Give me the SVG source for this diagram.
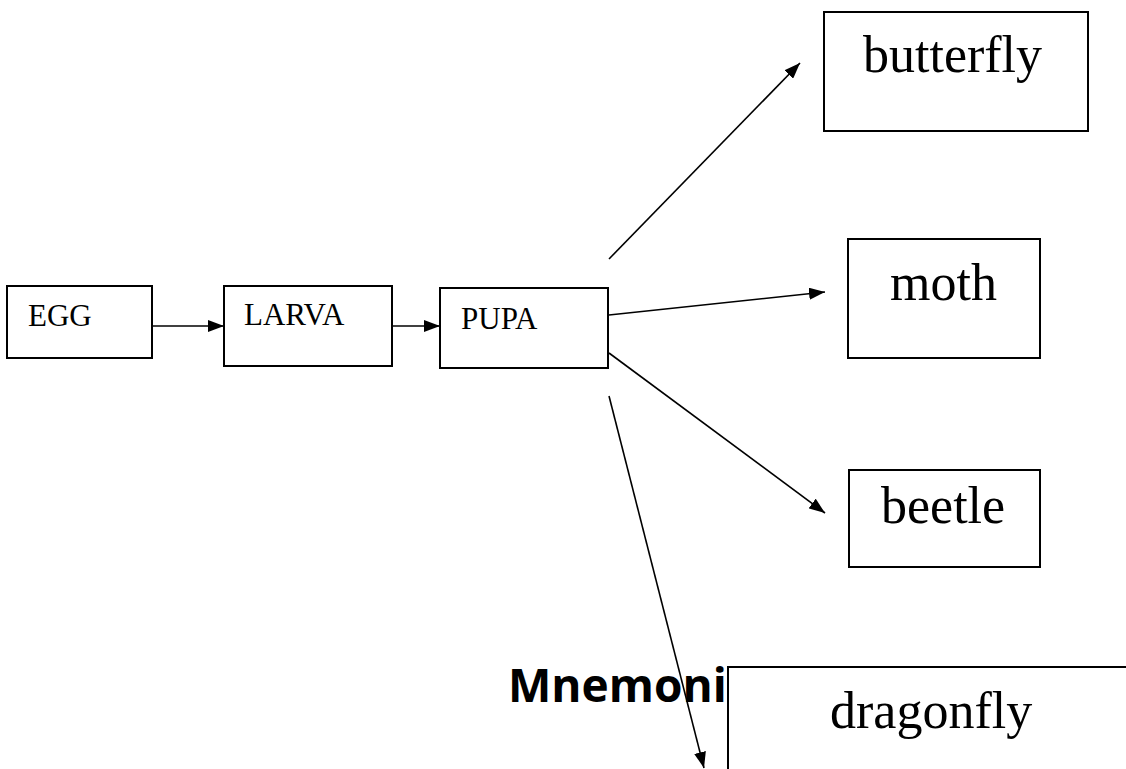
<svg xmlns="http://www.w3.org/2000/svg" width="1126" height="769" viewBox="0 0 1126 769">
  <style>
    .box { fill: #ffffff; stroke: #000000; stroke-width: 2; }
    .sm { font-family: "Liberation Serif", "Times New Roman", serif; font-size: 31px; fill: #000000; }
    .lg { font-family: "Liberation Serif", "Times New Roman", serif; font-size: 52px; fill: #000000; }
    .mn { font-family: "Open Sans", "Liberation Sans", Arial, sans-serif; font-size: 46px; font-weight: bold; fill: #000000; }
    .conn line { stroke: #000000; stroke-width: 1.6; fill: none; }
  </style>
  <defs>
    <marker id="head" viewBox="0 0 16 12" refX="16" refY="6" markerWidth="16" markerHeight="12" markerUnits="userSpaceOnUse" orient="auto">
      <path d="M0,0 L16,6 L0,12 Z" fill="#000000"/>
    </marker>
  </defs>
  <rect x="0" y="0" width="1126" height="769" fill="#ffffff"/>

  <text id="mnemonic" class="mn" x="508" y="702">Mnemonic</text>

  <g id="egg">
    <rect class="box" x="7" y="286" width="145" height="72"/>
    <text class="sm" x="28" y="326">EGG</text>
  </g>
  <g id="larva">
    <rect class="box" x="224" y="286" width="168" height="80"/>
    <text class="sm" x="244" y="325">LARVA</text>
  </g>
  <g id="pupa">
    <rect class="box" x="440" y="288" width="168" height="80"/>
    <text class="sm" x="461" y="329">PUPA</text>
  </g>
  <g id="butterfly">
    <rect class="box" x="824" y="12" width="264" height="119"/>
    <text class="lg" x="863" y="72">butterfly</text>
  </g>
  <g id="moth">
    <rect class="box" x="848" y="239" width="192" height="119"/>
    <text class="lg" x="890" y="300">moth</text>
  </g>
  <g id="beetle">
    <rect class="box" x="849" y="470" width="191" height="97"/>
    <text class="lg" x="881" y="523">beetle</text>
  </g>

  <g class="conn" id="connectors">
    <line x1="152" y1="326" x2="224" y2="326" marker-end="url(#head)"/>
    <line x1="392" y1="326" x2="440" y2="326" marker-end="url(#head)"/>
    <line x1="609" y1="259" x2="800" y2="63" marker-end="url(#head)"/>
    <line x1="609" y1="315" x2="825" y2="292" marker-end="url(#head)"/>
    <line x1="609" y1="353" x2="825" y2="513" marker-end="url(#head)"/>
    <line x1="609" y1="396" x2="704" y2="768" marker-end="url(#head)"/>
  </g>

  <g id="dragonfly">
    <rect class="box" x="728" y="667" width="420" height="140"/>
    <text class="lg" x="830" y="728">dragonfly</text>
  </g>
</svg>
